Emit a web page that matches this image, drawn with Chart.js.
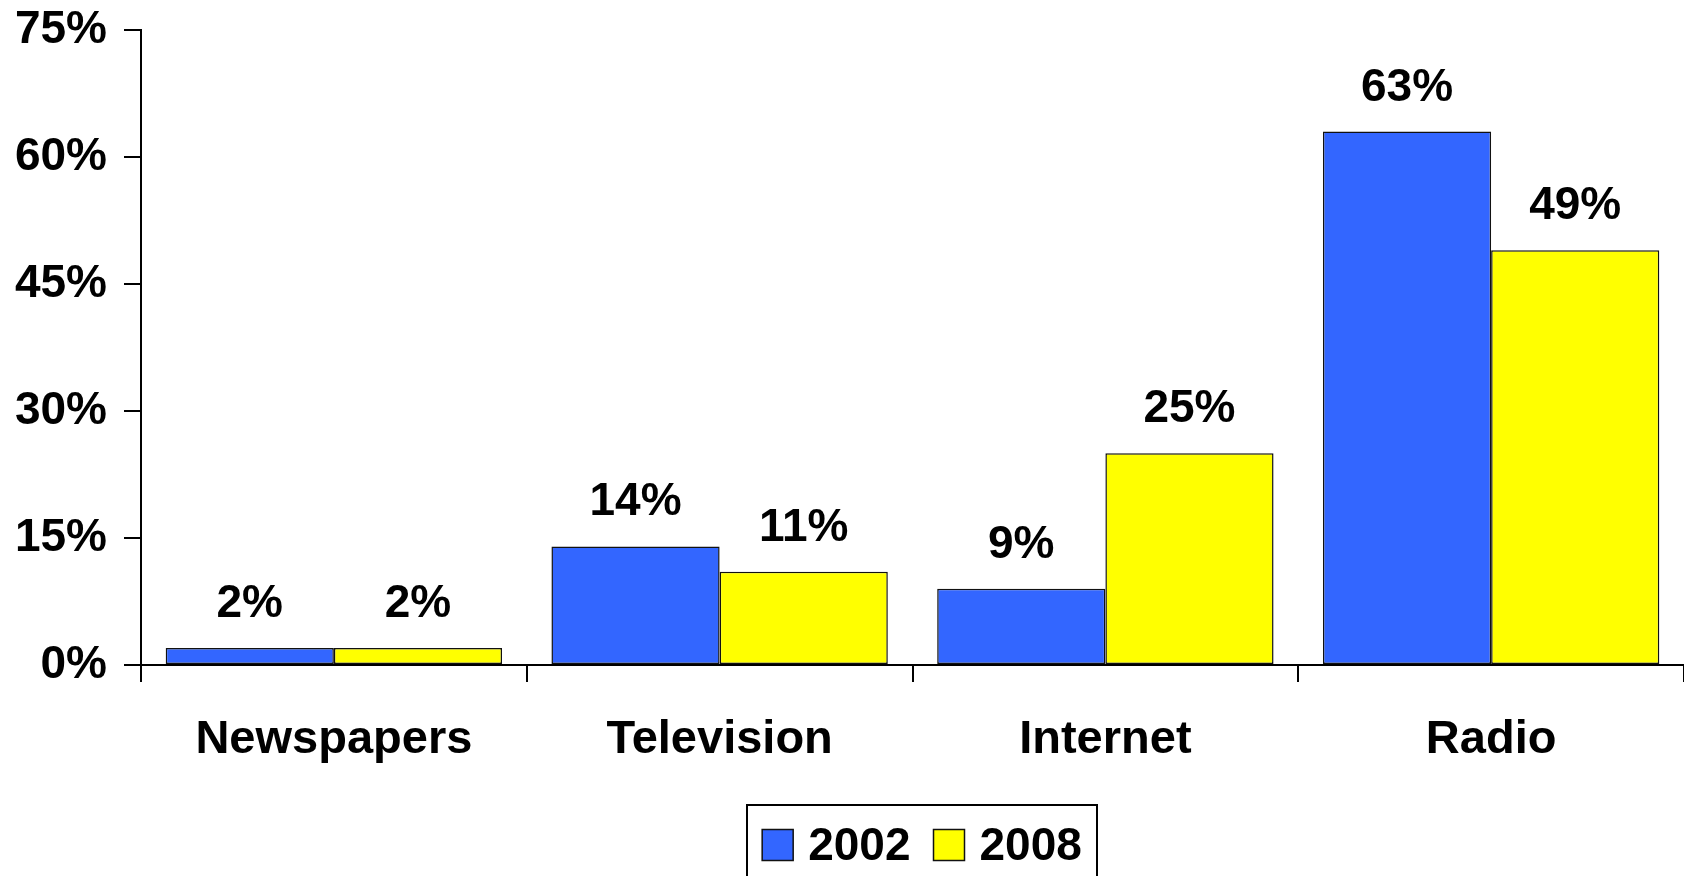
<!DOCTYPE html>
<html>
<head>
<meta charset="utf-8">
<script src="https://cdn.jsdelivr.net/npm/chart.js@4.4.0/dist/chart.umd.min.js"></script>
<style>
  html, body { margin: 0; padding: 0; background: #fff; }
  #wrap { width: 1684px; height: 876px; }
</style>
</head>
<body>
<div id="wrap"><canvas id="mediaChart" width="1684" height="876"></canvas></div>
<script>
// values
const categories = ['Newspapers', 'Television', 'Internet', 'Radio'];
const seriesNames = ['2002', '2008'];
const seriesColors = ['#3366ff', '#ffff00'];
const values2002 = [2, 14, 9, 63];
const values2008 = [2, 11, 25, 49];
const yTicks = [0, 15, 30, 45, 60, 75];

const FONT = 'Liberation Sans, Arial, Helvetica, sans-serif';

// draws the "63%" style labels above each bar
const barValueLabels = {
  id: 'barValueLabels',
  afterDatasetsDraw(chart) {
    const ctx = chart.ctx;
    ctx.save();
    ctx.font = `bold 46px ${FONT}`;
    ctx.fillStyle = '#000';
    ctx.textAlign = 'center';
    ctx.textBaseline = 'alphabetic';
    chart.data.datasets.forEach((ds, i) => {
      chart.getDatasetMeta(i).data.forEach((bar, j) => {
        ctx.fillText(ds.data[j] + '%', bar.x, bar.y - 31);
      });
    });
    ctx.restore();
  }
};

// framed legend under the x axis, like the original
const boxedLegend = {
  id: 'boxedLegend',
  afterDraw(chart) {
    const ctx = chart.ctx;
    const sq = 31, gapText = 15, gapItem = 23, pad = 15;
    const midY = 845;
    ctx.save();
    ctx.font = `bold 46px ${FONT}`;
    const items = chart.data.datasets.map(ds => ({
      text: ds.label,
      color: ds.backgroundColor,
      w: ctx.measureText(ds.label).width
    }));
    const inner = items.reduce((s, it) => s + sq + gapText + it.w, 0) + gapItem * (items.length - 1);
    const centre = 922;
    let x = centre - inner / 2;

    ctx.strokeStyle = '#000';
    ctx.lineWidth = 2;
    ctx.strokeRect(Math.round(x - pad), 805, Math.round(inner + pad * 2), 100);

    ctx.textAlign = 'left';
    ctx.textBaseline = 'middle';
    items.forEach(it => {
      ctx.fillStyle = it.color;
      ctx.fillRect(x, midY - sq / 2, sq, sq);
      ctx.strokeStyle = '#111';
      ctx.lineWidth = 1.5;
      ctx.strokeRect(x, midY - sq / 2, sq, sq);
      ctx.fillStyle = '#000';
      ctx.fillText(it.text, x + sq + gapText, midY + 2);
      x += sq + gapText + it.w + gapItem;
    });
    ctx.restore();
  }
};

new Chart(document.getElementById('mediaChart'), {
  type: 'bar',
  data: {
    labels: categories,
    datasets: [{
      label: seriesNames[0],
      data: values2002,
      backgroundColor: seriesColors[0],
      borderColor: '#111',
      borderWidth: 1.5,
      borderSkipped: false
    }, {
      label: seriesNames[1],
      data: values2008,
      backgroundColor: seriesColors[1],
      borderColor: '#111',
      borderWidth: 1.5,
      borderSkipped: false
    }]
  },
  options: {
    responsive: false,
    animation: false,
    devicePixelRatio: 1,
    layout: { padding: { top: 30, right: 0, left: 0, bottom: 0 } },
    datasets: {
      bar: { categoryPercentage: 0.872, barPercentage: 1 }
    },
    scales: {
      x: {
        grid: { drawOnChartArea: false, tickLength: 17, color: '#000', lineWidth: 2 },
        border: { color: '#000', width: 2 },
        ticks: { color: '#000', padding: 30, font: { family: FONT, size: 47, weight: 'bold' } },
        afterFit: s => { s.height = 211; s.paddingLeft = 0; s.paddingRight = 0; }
      },
      y: {
        min: 0,
        max: 75,
        afterBuildTicks: s => { s.ticks = yTicks.map(v => ({ value: v })); },
        grid: { drawOnChartArea: false, tickLength: 17, color: '#000', lineWidth: 2 },
        border: { color: '#000', width: 2 },
        ticks: {
          color: '#000',
          padding: 17,
          font: { family: FONT, size: 46, weight: 'bold' },
          callback: v => v + '%'
        },
        afterFit: s => { s.width = 141; s.paddingTop = 0; s.paddingBottom = 0; }
      }
    },
    plugins: {
      legend: { display: false },
      tooltip: { enabled: false }
    }
  },
  plugins: [barValueLabels, boxedLegend]
});
</script>
</body>
</html>
